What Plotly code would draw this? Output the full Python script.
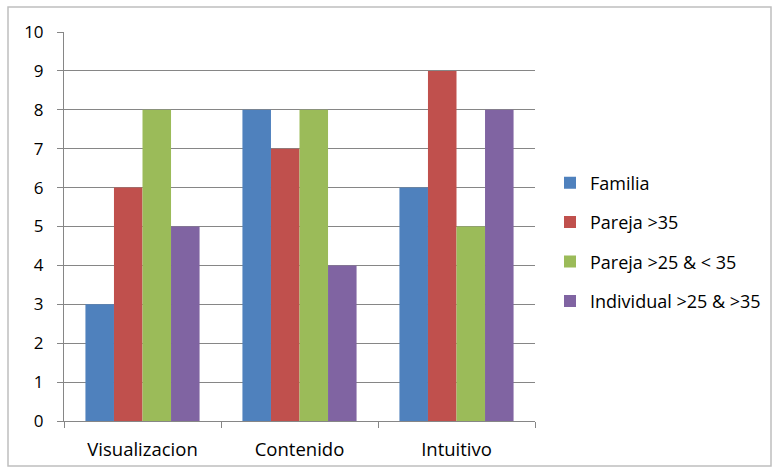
import plotly.graph_objects as go

categories = ["Visualizacion", "Contenido", "Intuitivo"]
series_names = ["Familia", "Pareja >35", "Pareja >25 & < 35", "Individual >25 & >35"]
familia = [3, 8, 6]
pareja35 = [6, 7, 9]
pareja25_35 = [8, 8, 5]
individual = [5, 4, 8]
colors = ["#4F81BD", "#C0504D", "#9BBB59", "#8064A2"]
y_ticks = list(range(0, 11))

W, H = 776, 470
L, R, T, B = 64, 535, 32, 421

fig = go.Figure()
for name, vals, col in zip(series_names, [familia, pareja35, pareja25_35, individual], colors):
    fig.add_trace(go.Bar(x=categories, y=vals, name=name, legendgroup=name,
                         marker=dict(color=col, line=dict(width=0))))

def px_x(p):
    return (p - L) / (R - L)

def px_y(p):
    return (B - p) / (B - T)

fig.add_shape(type="rect", xref="paper", yref="paper",
              x0=px_x(8), x1=px_x(771), y0=px_y(466), y1=px_y(7),
              line=dict(color="#BFBFBF", width=1.5), layer="below")

fig.update_layout(
    width=W, height=H,
    margin=dict(l=L, r=W - R, t=T, b=H - B, autoexpand=False),
    paper_bgcolor="white", plot_bgcolor="white",
    barmode="group", bargap=0.273, bargroupgap=0,
    font=dict(family="'Open Sans', sans-serif", size=18, color="#000000"),
    showlegend=True,
    legend=dict(x=px_x(550), y=px_y(242), xanchor="left", yanchor="middle",
                traceorder="grouped", tracegroupgap=13,
                font=dict(size=18), bgcolor="rgba(0,0,0,0)"),
    xaxis=dict(showline=True, linecolor="#868686", linewidth=1,
               ticks="outside", tickson="boundaries", ticklen=6, tickcolor="#868686",
               showgrid=False, tickfont=dict(size=18.5), ticklabelstandoff=12),
    yaxis=dict(range=[0, 10], tickvals=y_ticks, showline=True, linecolor="#868686", linewidth=1,
               ticks="outside", ticklen=6, tickcolor="#868686",
               showgrid=True, gridcolor="#868686", gridwidth=1,
               zeroline=False, tickfont=dict(size=17), ticklabelstandoff=10),
)

fig.write_html("out.html")
